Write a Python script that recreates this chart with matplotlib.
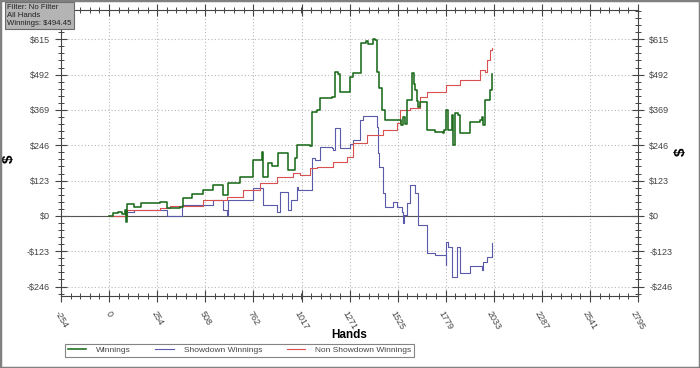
import matplotlib
matplotlib.use("Agg")
import matplotlib.pyplot as plt
from matplotlib.ticker import FixedLocator, MultipleLocator
from matplotlib.patches import Rectangle

plt.rcParams['font.family'] = ['Liberation Sans', 'DejaVu Sans']

# ---- data (hands, $) ----
win_x = [0, 20, 45, 70, 85, 92, 94, 130, 171, 268, 305, 373, 389, 440, 495, 548, 600, 627, 690,
         759, 807, 812, 838, 860, 891, 943, 948, 981, 991, 1060, 1071, 1100, 1113, 1176, 1192, 1210,
         1218, 1261, 1271, 1287, 1324, 1330, 1360, 1370, 1393, 1403, 1414, 1429, 1440, 1456, 1535,
         1545, 1555, 1565, 1572, 1599, 1610, 1614, 1625, 1635, 1641, 1678, 1720, 1762, 1770, 1783,
         1789, 1810, 1815, 1826, 1842, 1852, 1905, 1958, 1969, 1974, 1985, 2011, 2022]
win_y = [0, 10, 14, 8, 20, -20, 42, 32, 44, 48, 28, 30, 63, 75, 90, 108, 73, 115, 136,
         195, 223, 136, 184, 175, 219, 220, 160, 202, 247, 245, 362, 369, 411, 415, 501, 495,
         432, 432, 484, 497, 497, 602, 608, 598, 615, 612, 501, 445, 369, 334, 334,
         315, 345, 320, 404, 497, 460, 439, 400, 380, 397, 299, 292, 288, 300, 369,
         300, 350, 247, 360, 350, 288, 327, 335, 345, 315, 404, 439, 494]

sd_x = [0, 93, 130, 268, 305, 373, 384, 548, 600, 622, 627, 759, 807, 812, 886, 901, 943, 948,
        964, 991, 1000, 1071, 1090, 1113, 1176, 1181, 1192, 1218, 1271, 1287, 1324, 1340, 1403,
        1414, 1419, 1429, 1445, 1456, 1498, 1519, 1546, 1551, 1560, 1572, 1588, 1599, 1614, 1630,
        1678, 1720, 1773, 1778, 1783, 1789, 1810, 1836, 1842, 1852, 1905, 1969, 1972, 1974, 1995, 2022]
sd_y = [0, 14, 21, 21, -2, -2, 38, 56, 21, 3, 56, 97, 97, 38, 14, 83, 83, 21,
        56, 101, 90, 202, 195, 241, 237, 230, 306, 237, 250, 264, 334, 348, 348,
        310, 219, 171, 80, 31, 49, 31, 14, -24, 3, 45, 108, 108, 80, -31,
        -128, -136, -136, -171, -90, -107, -212, -107, -110, -200, -174, -174, -190, -160, -143, -94]

nsd_x = [0, 93, 268, 321, 495, 622, 706, 796, 886, 970, 1007, 1060, 1097, 1181, 1255, 1287, 1340,
         1361, 1429, 1445, 1519, 1535, 1588, 1641, 1678, 1762, 1783, 1852, 1958, 1985, 1995, 2011, 2022]
nsd_y = [0, 21, 28, 35, 56, 66, 90, 115, 136, 150, 143, 167, 171, 188, 206, 254, 254,
         282, 282, 299, 324, 369, 375, 415, 432, 430, 456, 473, 508, 500, 543, 578, 585]

x_ticks = [-254, 0, 254, 508, 762, 1017, 1271, 1525, 1779, 2033, 2287, 2541, 2795]
y_ticks = [-246, -123, 0, 123, 246, 369, 492, 615]
y_labels = ['-$246', '-$123', '$0', '$123', '$246', '$369', '$492', '$615']
series_names = ['Winnings', 'Showdown Winnings', 'Non Showdown Winnings']
info_text = 'Filter: No Filter\nAll Hands\nWinnings: $494.45'

fig = plt.figure(figsize=(7.0, 3.68), dpi=100)
ax = fig.add_axes([61/700, 1-296/368, 577/700, 286/368])

ax.step(win_x, win_y, where='post', color='#1a6a1a', lw=1.15, label=series_names[0], zorder=4)
ax.step(sd_x, sd_y, where='post', color='#5a5aaa', lw=0.8, label=series_names[1], zorder=3)
ax.step(nsd_x, nsd_y, where='post', color='#d85050', lw=0.8, label=series_names[2], zorder=3)

ax.set_xlim(-254, 2795)
ax.set_ylim(-279, 717)
ax.axhline(0, color='#555555', lw=0.8, zorder=2)

ax.xaxis.set_major_locator(FixedLocator(x_ticks))
ax.xaxis.set_minor_locator(MultipleLocator(254.1/5))
ax.set_xticklabels([str(v) for v in x_ticks], rotation=-60, ha='center', va='top',
                   fontsize=6.5, color='#444444')
ax.yaxis.set_major_locator(FixedLocator(y_ticks))
ax.yaxis.set_minor_locator(MultipleLocator(24.6))
ax.set_yticklabels(y_labels, fontsize=6.5, color='#444444')

ax.tick_params(axis='both', which='major', direction='inout', length=8, width=0.8, color='#444444',
               top=True, right=True, labelright=True)
ax.tick_params(axis='both', which='minor', direction='inout', length=5, width=0.7, color='#444444',
               top=True, right=True)
ax.tick_params(axis='y', which='major', pad=4)
ax.tick_params(axis='x', which='major', pad=6)

ax.grid(True, which='major', linestyle=(0, (1, 2)), color='#b8b8b8', lw=0.8)
for s in ax.spines.values():
    s.set_color('#444444')
    s.set_linewidth(0.8)

ax.set_xlabel('Hands', fontsize=8.5, fontweight='bold')
ax.xaxis.set_label_coords(0.5, -0.115)
ax.set_ylabel('$', fontsize=11, fontweight='bold')
ax.yaxis.set_label_coords(-0.078, 0.48)
fig.text(681/700, 1-152/368, '$', fontsize=11, fontweight='bold', rotation=90,
         ha='center', va='center')

leg = fig.legend(loc='lower left', bbox_to_anchor=(61/700, 1-361/368, 357/700, 15/368),
                 mode='expand', ncol=3, fontsize=6, frameon=True, fancybox=False,
                 handlelength=2.2, borderpad=0.3, handletextpad=1.2)
leg.get_frame().set_edgecolor('#666666')
leg.get_frame().set_linewidth(0.8)
for t in leg.get_texts():
    t.set_color('#444444')

fig.text(7/700, 1-4/368, info_text, fontsize=5.6, va='top', ha='left', color='#222222',
         linespacing=1.2,
         bbox=dict(boxstyle='square,pad=0.3', facecolor='#b4b4b4', edgecolor='#6a6a6a', lw=0.8))

fig.patches.append(Rectangle((0, 0), 1, 1, transform=fig.transFigure, fill=False,
                             edgecolor='#808080', lw=2.5, zorder=10))

fig.savefig('out.png', dpi=100)
